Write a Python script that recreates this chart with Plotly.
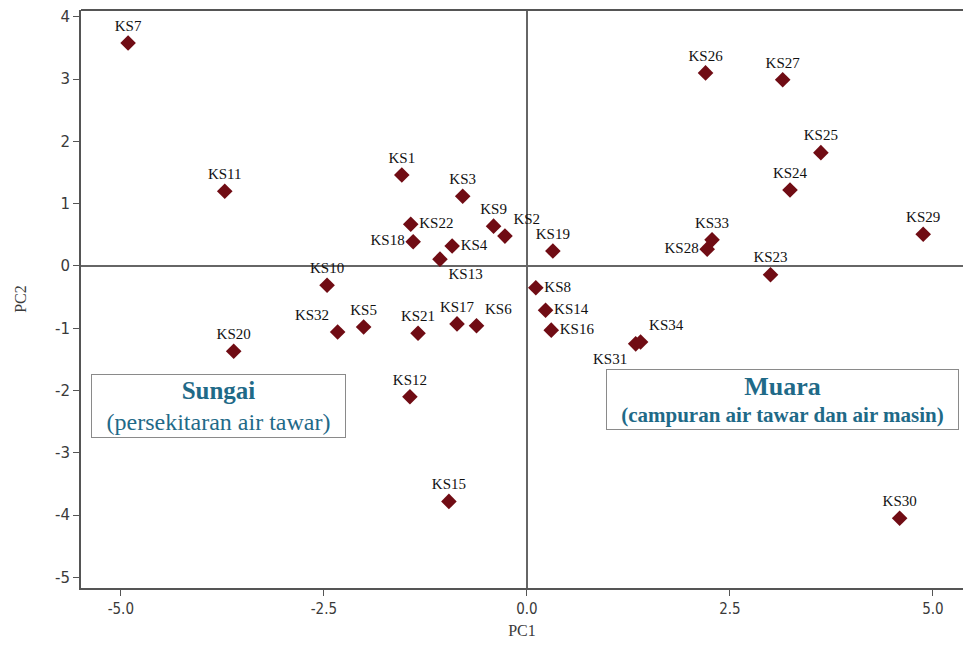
import plotly.graph_objects as go

# PCA scores of sampling stations
stations = ["KS1", "KS2", "KS3", "KS4", "KS5", "KS6", "KS7", "KS8", "KS9", "KS10",
            "KS11", "KS12", "KS13", "KS14", "KS15", "KS16", "KS17", "KS18", "KS19", "KS20",
            "KS21", "KS22", "KS23", "KS24", "KS25", "KS26", "KS27", "KS28", "KS29", "KS30",
            "KS31", "KS32", "KS33", "KS34"]
pc1 = [-1.54, -0.27, -0.79, -0.92, -2.01, -0.62, -4.91, 0.11, -0.41, -2.46,
       -3.72, -1.44, -1.07, 0.23, -0.96, 0.30, -0.86, -1.40, 0.32, -3.61,
       -1.34, -1.43, 3.00, 3.24, 3.62, 2.20, 3.15, 2.22, 4.88, 4.59,
       1.34, -2.33, 2.28, 1.40]
pc2 = [1.46, 0.48, 1.12, 0.32, -0.98, -0.96, 3.58, -0.35, 0.64, -0.31,
       1.20, -2.10, 0.11, -0.71, -3.78, -1.03, -0.93, 0.39, 0.24, -1.37,
       -1.08, 0.67, -0.14, 1.22, 1.82, 3.10, 2.99, 0.27, 0.51, -4.05,
       -1.25, -1.06, 0.42, -1.22]
label_pos = ["top center", "top right", "top center", "middle right", "top center",
             "top right", "top center", "middle right", "top center", "top center",
             "top center", "top center", "bottom right", "middle right", "top center",
             "middle right", "top center", "middle left", "top center", "top center",
             "top center", "middle right", "top center", "top center", "top center",
             "top center", "top center", "middle left", "top center", "top center",
             "bottom left", "top left", "top center", "top right"]

x_ticks = [-5.0, -2.5, 0.0, 2.5, 5.0]
x_tick_text = ["-5.0", "-2.5", "0.0", "2.5", "5.0"]
y_ticks = [-5, -4, -3, -2, -1, 0, 1, 2, 3, 4]
y_tick_text = ["-5", "-4", "-3", "-2", "-1", "0", "1", "2", "3", "4"]

axis_col = "#555555"
teal = "#1f6a88"

fig = go.Figure()
fig.add_trace(go.Scatter(
    x=pc1, y=pc2, mode="markers+text", text=stations, textposition=label_pos,
    marker=dict(symbol="diamond", size=12, color="#700c14"),
    textfont=dict(family="Liberation Serif", size=15, color="#111111"),
    cliponaxis=False, showlegend=False,
))

fig.update_layout(
    width=963, height=648,
    margin=dict(l=81, r=0, t=10, b=60),
    plot_bgcolor="white", paper_bgcolor="white",
    xaxis=dict(range=[-5.49, 5.37], tickvals=x_ticks, ticktext=x_tick_text,
               showgrid=False, zeroline=True, zerolinecolor="#666666", zerolinewidth=2,
               showline=True, linecolor=axis_col, linewidth=2,
               ticks="outside", ticklen=6, tickcolor=axis_col,
               tickfont=dict(family="DejaVu Sans Condensed", size=15, color="#3a3a3a"),
               title=dict(text="PC1", font=dict(family="Liberation Serif", size=16, color="#3a3a3a"),
                          standoff=8)),
    yaxis=dict(range=[-5.17, 4.11], tickvals=y_ticks, ticktext=y_tick_text,
               showgrid=False, zeroline=True, zerolinecolor="#666666", zerolinewidth=2,
               showline=True, linecolor=axis_col, linewidth=2,
               ticks="outside", ticklen=6, tickcolor=axis_col,
               tickfont=dict(family="DejaVu Sans", size=15, color="#3a3a3a"),
               title=dict(text="PC2", font=dict(family="Liberation Serif", size=16, color="#3a3a3a"),
                          standoff=24)),
    shapes=[dict(type="line", xref="paper", yref="paper", x0=0, x1=1, y0=1, y1=1,
                 line=dict(color=axis_col, width=2))],
)

fig.add_annotation(
    xref="paper", yref="paper", x=(218 - 81) / 882, y=(588 - 406) / 578,
    xanchor="center", yanchor="middle",
    text="<b><span style='font-size:25px'>Sungai</span></b><br>(persekitaran air tawar)",
    showarrow=False, align="center",
    font=dict(family="Liberation Serif", size=24, color=teal),
    bordercolor="#8a8a8a", borderwidth=1, borderpad=2, bgcolor="white",
    width=249,
)
fig.add_annotation(
    xref="paper", yref="paper", x=(782 - 81) / 882, y=(588 - 399) / 578,
    xanchor="center", yanchor="middle",
    text="<b><span style='font-size:26px'>Muara</span><br>(campuran air tawar dan air masin)</b>",
    showarrow=False, align="center",
    font=dict(family="Liberation Serif", size=21, color=teal),
    bordercolor="#8a8a8a", borderwidth=1, borderpad=2, bgcolor="white",
    width=347,
)

fig.write_html("out.html")
